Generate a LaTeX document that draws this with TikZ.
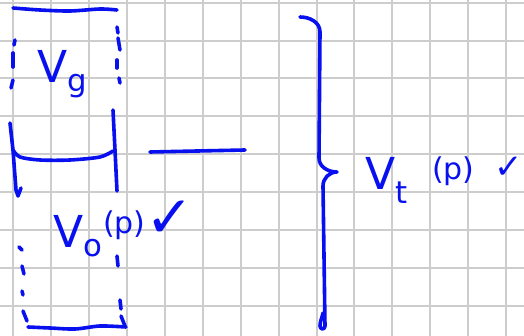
\documentclass[tikz,border=0pt]{standalone}
\usepackage{fontspec}
\setmainfont{DejaVu Sans}
\usepackage{tikz}
\definecolor{inkblue}{RGB}{8, 16, 240}
\definecolor{gridgray}{RGB}{205, 205, 205}

\begin{document}
\begin{tikzpicture}[x=1pt, y=-1pt,
    ink/.style={draw=inkblue, line width=3.6pt, line cap=round, line join=round},
    gridline/.style={draw=gridgray, line width=2pt},
    lbl/.style={text=inkblue, inner sep=0pt, font=\fontsize{44}{44}\selectfont},
    smalllbl/.style={text=inkblue, inner sep=0pt, font=\fontsize{30}{30}\selectfont},
    tick/.style={text=inkblue, inner sep=0pt}]
        \useasboundingbox (0,0) rectangle (524,336);
        \clip (0,0) rectangle (524,336);
        \fill[white] (0,0) rectangle (524,336);

        % squared paper
        \foreach \gx in {0,...,13}
            \draw[gridline] ({13.3+37.9*\gx},0) -- ++(0,336);
        \foreach \gy in {0,...,8}
            \draw[gridline] (0,{2.7+37.9*\gy}) -- ++(524,0);

        % upper box
        \draw[ink] plot[smooth] coordinates {(13,8) (40,10) (70,11) (100,9) (117,10)};
        \draw[ink] (15,40) -- (14,45);
        \draw[ink] (13,53) -- (13,67);
        \draw[ink] (13,80) -- (11,88);
        \draw[ink] (117,27) -- (118,33);
        \draw[ink] (118,38) -- (120,50);
        \draw[ink] (117,60) -- (117,68);
        \draw[ink] (119,78) -- (120,83);
        \node[lbl, anchor=base west] (vg) at (37,83) {V\textsubscript{g}};

        % solid walls and bottom
        \draw[ink] (10,123) -- (13,150) -- (16,190) -- (18,196) -- (21,188);
        \draw[ink] (113,110) -- (115,150) -- (117,191);
        \draw[ink] plot[smooth] coordinates {(13,150) (20,157) (40,160) (70,160) (100,157) (113,151)};
        \draw[ink] (150,152) -- (245,150);

        % lower box
        \draw[ink] (19,247) -- (22,250);
        \draw[ink] (22,266) -- (24,274);
        \draw[ink] (22,291) -- (23,295);
        \draw[ink] (23,311) -- (27,321);
        \draw[ink] plot[smooth] coordinates {(28,327) (50,328) (75,329) (100,326) (126,327)};
        \draw[ink] (117,256) -- (118,266);
        \draw[ink] (120,300) -- (121,309);
        \draw[ink] (121,316) -- (125,326);
        \node[lbl, anchor=base west] (vo) at (53,248) {V\textsubscript{o}};
        \node[smalllbl, anchor=base west] (vop) at (103,234) {(p)};
        \node[tick, font=\fontsize{58}{58}\selectfont] (voc) at (170,219) {✓};

        % brace
        \draw[ink] (300,17) to[out=0,in=90] (320,32) -- (319,158)
            to[out=-90,in=180] (337,172) to[out=180,in=90] (323,186)
            -- (325,326) to[out=-90,in=-90,looseness=2] (320,326)
            to[out=90,in=-100] (323,313);
        \node[lbl, anchor=base west] (vt) at (365,190) {V\textsubscript{t}};
        \node[smalllbl, anchor=base west] (vtp) at (432,180) {(p)};
        \node[tick, font=\fontsize{34}{34}\selectfont, anchor=east] (vtc) at (523,168) {✓};
    \end{tikzpicture}
\end{document}
